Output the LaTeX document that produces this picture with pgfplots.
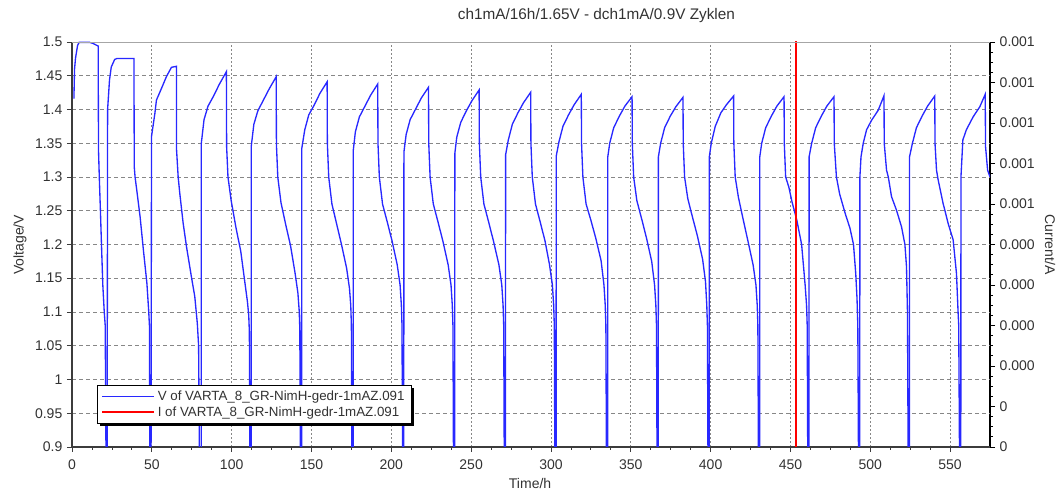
\documentclass[border=0pt]{standalone}
\usepackage{fontspec}
\setmainfont{Liberation Sans}
\usepackage{pgfplots}
\pgfplotsset{compat=1.18}
\usetikzlibrary{shadows}
\definecolor{vblue}{RGB}{40,40,255}
\definecolor{gridgray}{RGB}{135,135,135}
\definecolor{axgray}{RGB}{60,60,60}
\definecolor{txtgray}{RGB}{50,50,50}
% legend lines must not inherit the legend box shadow
\makeatletter
\tikzset{noshadow/.code={\let\tikz@preactions\pgfutil@empty}}
\makeatother

\begin{document}
\begin{tikzpicture}
\useasboundingbox (-54pt,-36pt) rectangle (742.5pt,335.25pt);

% current axis (right), drawn first
\begin{axis}[
  at={(0pt,0pt)}, anchor=south west,
  scale only axis, width=688.5pt, height=303.75pt,
  xmin=0, xmax=575, ymin=0, ymax=10,
  axis x line=none, axis y line=right, ytick pos=right,
  axis line style={-, black, line width=1.6pt},
  every outer y axis line/.append style={-},
  ytick={0,1,2,3,4,5,6,7,8,9,10},
  yticklabels={0,0,0.000,0.000,0.000,0.000,0.001,0.001,0.001,0.001,0.001},
  minor y tick num=3,
  tick align=outside, major tick length=3.75pt, minor tick length=2.25pt,
  tick style={black, line width=0.6pt},
  tick label style={font=\fontsize{10.5}{12}\selectfont, text=txtgray},
  ylabel={Current/A},
  ylabel style={at={(axis description cs:1.0654,0.5)}, anchor=center, rotate=180,
    font=\fontsize{10.5}{12}\selectfont, text=txtgray},
]
\addplot[draw=none] coordinates {(0,0) (575,10)};
\end{axis}

% voltage axis (left)
\begin{axis}[
  at={(0pt,0pt)}, anchor=south west,
  scale only axis, width=688.5pt, height=303.75pt,
  xmin=0, xmax=575, ymin=0.9, ymax=1.5,
  axis x line=bottom, axis y line=left,
  xtick pos=bottom, ytick pos=left,
  axis line style={-, axgray, line width=1.4pt},
  every outer x axis line/.append style={-},
  every outer y axis line/.append style={-},
  xtick={0,50,100,150,200,250,300,350,400,450,500,550},
  xticklabels={0,50,100,150,200,250,300,350,400,450,500,550},
  minor x tick num=3,
  ytick={0.9,0.95,1,1.05,1.1,1.15,1.2,1.25,1.3,1.35,1.4,1.45,1.5},
  yticklabels={0.9,0.95,1,1.05,1.1,1.15,1.2,1.25,1.3,1.35,1.4,1.45,1.5},
  tick align=outside, major tick length=3.75pt, minor tick length=2.25pt,
  tick style={axgray, line width=0.6pt},
  tick label style={font=\fontsize{10.5}{12}\selectfont, text=txtgray},
  xticklabel style={yshift=-2.5pt},
  grid=major,
  x grid style={gridgray, line width=0.6pt, dash pattern=on 1.5pt off 1.5pt},
  y grid style={gridgray, line width=0.6pt, dash pattern=on 3pt off 2.25pt},
  title={ch1mA/16h/1.65V - dch1mA/0.9V Zyklen},
  title style={at={(axis description cs:0.5713,1.0444)}, anchor=center,
    font=\fontsize{11.5}{13}\selectfont, text=txtgray},
  xlabel={Time/h},
  xlabel style={at={(axis description cs:0.499,-0.0889)}, anchor=center,
    font=\fontsize{10.5}{12}\selectfont, text=txtgray},
  ylabel={Voltage/V},
  ylabel style={at={(axis description cs:-0.0566,0.499)}, anchor=center,
    font=\fontsize{10.5}{12}\selectfont, text=txtgray},
  legend image code/.code={\draw[noshadow, #1] (0pt,0pt) -- (39pt,0pt);},
  legend cell align=left,
  legend style={at={(axis description cs:0.0272,0.1531)}, anchor=north west,
    draw=black, line width=0.6pt, fill=white,
    drop shadow={shadow xshift=2.25pt, shadow yshift=-2.25pt, fill=black, opacity=1},
    font=\fontsize{10}{11}\selectfont, text=txtgray,
    inner xsep=3pt, inner ysep=2pt, row sep=-1pt},
]
\addplot[vblue, line width=1pt] coordinates {
(1.2,1.416) (1.6,1.46) (2.2,1.476) (3.5,1.495) (4.5,1.4995) (11,1.4995) (13,1.498) (15.5,1.495) (16.4,1.494)
(16.6,1.34) (17.1,1.30) (17.8,1.25) (18.6,1.19) (19.3,1.14) (20.2,1.10) (20.8,1.08) (21.4,0.85)
(22.0,0.85) (22.3,1.40) (23.5,1.444) (24.6,1.463) (26.7,1.474) (28,1.4755) (38.8,1.4755)
(39.0,1.315) (39.5,1.30) (40.6,1.28) (42.7,1.24) (44.8,1.19) (46.9,1.143) (48,1.103) (48.5,1.08) (48.8,0.85)
(49.5,0.85) (49.8,1.36) (51.9,1.394) (52.9,1.414) (56,1.431) (59.2,1.449) (62.3,1.4625) (65.4,1.464)
(65.5,1.34) (66.5,1.30) (67.5,1.276) (69.6,1.232) (71.7,1.197) (74.8,1.152) (76.9,1.123) (78.5,1.083) (79.3,1.05) (79.9,0.85)
(80.9,0.85) (81.0,1.35) (82.7,1.385) (85.2,1.405) (88.7,1.42) (92.2,1.437) (96.7,1.456)
(96.85,1.345) (97.7,1.30) (99.7,1.265) (102.7,1.225) (105.7,1.19) (108.1,1.147) (109.9,1.115) (110.7,1.095) (111.1,1.07) (111.5,0.85)
(112.2,0.85) (112.3,1.346) (113.9,1.378) (116.4,1.398) (119.9,1.414) (123.4,1.430) (127.9,1.4486)
(128.05,1.348) (128.9,1.30) (130.9,1.262) (133.9,1.229) (136.9,1.198) (139.7,1.158) (141.5,1.128) (142.3,1.102) (142.7,1.075) (143.1,0.85)
(143.8,0.85) (143.9,1.342) (145.8,1.370) (148.3,1.392) (151.8,1.407) (155.3,1.424) (159.8,1.441)
(159.95,1.35) (160.8,1.30) (162.8,1.26) (165.8,1.23) (168.8,1.20) (172.0,1.165) (173.8,1.135) (174.6,1.11) (175.0,1.08) (175.4,0.85)
(176.1,0.85) (176.2,1.34) (177.5,1.367) (180.0,1.389) (183.5,1.405) (187.0,1.421) (191.5,1.4378)
(191.65,1.35) (192.5,1.30) (194.5,1.26) (197.5,1.233) (200.5,1.205) (203.7,1.17) (205.5,1.14) (206.3,1.11) (206.7,1.08) (207.1,0.85)
(207.8,0.85) (207.9,1.337) (209.3,1.363) (211.8,1.385) (215.3,1.401) (218.8,1.417) (223.3,1.433)
(223.45,1.35) (224.3,1.30) (226.3,1.26) (229.3,1.233) (232.3,1.205) (235.6,1.17) (237.4,1.14) (238.2,1.11) (238.6,1.08) (239.0,0.85)
(239.7,0.85) (239.8,1.335) (241.0,1.359) (243.5,1.381) (247.0,1.398) (250.5,1.413) (255,1.429)
(255.15,1.35) (256,1.30) (258,1.26) (261,1.233) (264,1.205) (267.4,1.17) (269.2,1.14) (270.0,1.11) (270.4,1.08) (270.8,0.85)
(271.5,0.85) (271.6,1.333) (273.3,1.355) (275.8,1.378) (279.3,1.395) (282.8,1.41) (287.3,1.4255)
(287.45,1.35) (288.3,1.30) (290.3,1.26) (293.3,1.233) (296.3,1.205) (299.1,1.17) (300.9,1.14) (301.7,1.11) (302.1,1.08) (302.5,0.85)
(303.2,0.85) (303.3,1.331) (305.0,1.352) (307.5,1.375) (311.0,1.392) (314.5,1.407) (319,1.4225)
(319.15,1.35) (320,1.30) (322,1.26) (325,1.236) (328,1.21) (331.4,1.176) (333.2,1.14) (334.0,1.11) (334.4,1.08) (334.8,0.85)
(335.5,0.85) (335.6,1.33) (336.8,1.35) (339.3,1.373) (342.8,1.39) (346.3,1.405) (350.8,1.419)
(350.95,1.35) (351.8,1.30) (353.8,1.265) (356.8,1.238) (359.8,1.21) (363.1,1.175) (364.9,1.14) (365.7,1.11) (366.1,1.08) (366.5,0.85)
(367.2,0.85) (367.3,1.33) (368.7,1.35) (371.2,1.373) (374.7,1.39) (378.2,1.404) (382.7,1.418)
(382.85,1.35) (383.7,1.30) (385.7,1.268) (388.7,1.24) (391.7,1.213) (395.0,1.178) (396.8,1.145) (397.6,1.11) (398.0,1.08) (398.4,0.85)
(399.1,0.85) (399.2,1.33) (400.4,1.35) (402.9,1.375) (406.4,1.395) (409.9,1.407) (414.4,1.42)
(414.55,1.35) (415.4,1.30) (417.4,1.27) (420.4,1.237) (423.4,1.205) (426.6,1.17) (428.4,1.14) (429.2,1.11) (429.6,1.08) (430.0,0.85)
(430.7,0.85) (430.8,1.33) (432.0,1.35) (434.5,1.373) (438.0,1.39) (441.5,1.405) (446,1.419)
(446.15,1.35) (447,1.30) (449,1.285) (451,1.263) (454,1.236) (457,1.20) (459.2,1.14) (460.1,1.11) (460.5,1.08) (460.9,0.85)
(461.6,0.85) (461.7,1.33) (463.3,1.35) (465.8,1.373) (469.3,1.39) (472.8,1.405) (477.3,1.419)
(477.45,1.35) (478.8,1.30) (480.8,1.275) (484.3,1.246) (487.3,1.224) (489.5,1.20) (490.9,1.157) (491.7,1.12) (492.2,1.08) (492.7,0.85)
(493.4,0.85) (493.5,1.30) (494.2,1.33) (495.6,1.35) (497.7,1.37) (500.8,1.384) (505,1.399) (508.6,1.4205)
(508.75,1.35) (510.2,1.31) (511.3,1.30) (513.3,1.271) (516.4,1.251) (519.6,1.226) (521.7,1.20) (522.7,1.167) (523.3,1.10) (523.8,0.85)
(524.5,0.85) (524.6,1.33) (526.4,1.35) (528.9,1.373) (532.4,1.39) (535.9,1.405) (540.4,1.42)
(540.55,1.35) (541.5,1.31) (542.5,1.296) (545.6,1.261) (548.8,1.231) (551.9,1.207) (554,1.157) (555.0,1.10) (555.4,1.08) (556.0,0.85)
(556.7,0.85) (556.8,1.30) (558.0,1.355) (560.2,1.37) (564.4,1.389) (568.6,1.404) (572,1.4225)
(572.2,1.345) (573.5,1.31) (575,1.30)
};
\addlegendentry{V of VARTA\_8\_GR-NimH-gedr-1mAZ.091}
% current trace: a vertical step at t = 453.3 h spanning the whole current range
\addplot[color=red, line width=1.3pt, mark=none] coordinates {(453.3,0.88) (453.3,1.52)};
\addlegendentry{I of VARTA\_8\_GR-NimH-gedr-1mAZ.091}
\draw[gray!70, line width=0.5pt] (rel axis cs:0,1) -- (rel axis cs:1,1);
\end{axis}
\end{tikzpicture}
\end{document}
